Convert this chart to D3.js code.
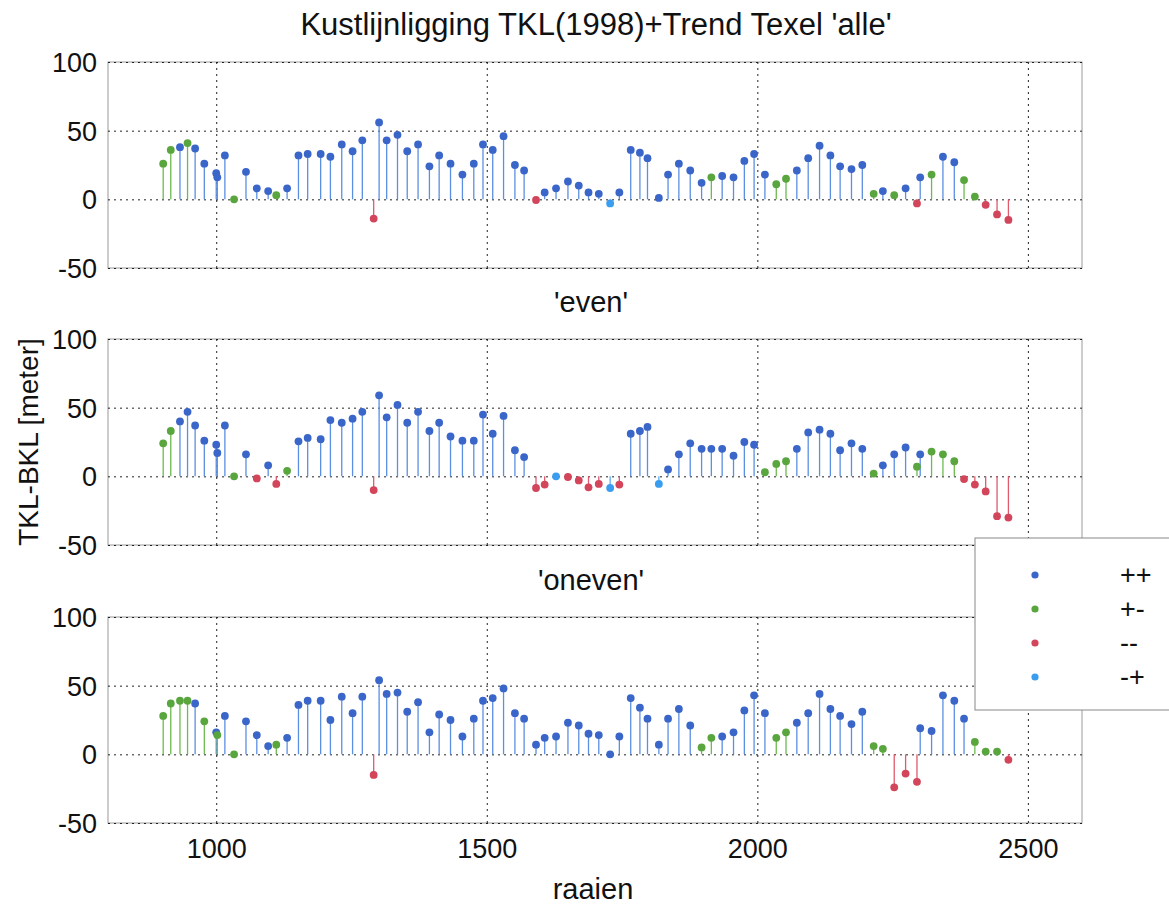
<!DOCTYPE html>
<meta charset="utf-8">
<style>
body { margin: 0; background: #fff; }
text { font-family: "Liberation Sans", Arial, sans-serif; fill: #111; }
.grid line { stroke: #222; stroke-dasharray: 2,4; stroke-width: 1; }
.grid .domain { display: none; }
</style>
<body>
<script src="https://d3js.org/d3.v7.min.js"></script>
<script>

// raai positions (shared by the three panels)
var raaien = [902,916,933,947,961,978,1000,1002,1016,1033,1055,1075,1096,1111,1131,1152,1169,1193,1211,1232,
  1252,1270,1291,1301,1315,1335,1353,1373,1394,1412,1433,1455,1476,1493,1511,1531,1552,1569,1591,1607,
  1628,1650,1670,1688,1707,1728,1745,1766,1783,1797,1818,1835,1855,1876,1897,1915,1935,1956,1976,1994,
  2014,2035,2053,2073,2094,2115,2135,2153,2174,2194,2215,2232,2253,2274,2295,2301,2322,2343,2364,2382,
  2402,2422,2443,2464];

// 'alle'
var alleVal = [26,36,38,41,37,26,19,16,32,0,20,8,6,3,8,32,33,33,31,40,
  35,43,-14,56,43,47,35,40,24,32,26,18,26,40,36,46,25,21,-0.5,5,
  8,13,10,5,4,-3,5,36,34,30,1,18,26,21,12,16,17,16,28,33,
  18,11,15,21,30,39,32,24,22,25,4,6,3,8,-3,16,18,31,27,14,
  2,-4,-11,-15];
var alleCat = ["+-","+-","++","+-","++","++","++","++","++","+-","++","++","++","+-","++","++","++","++","++","++",
  "++","++","--","++","++","++","++","++","++","++","++","++","++","++","++","++","++","++","--","++",
  "++","++","++","++","++","-+","++","++","++","++","++","++","++","++","++","+-","++","++","++","++",
  "++","+-","+-","++","++","++","++","++","++","++","+-","++","+-","++","--","++","+-","++","++","+-",
  "+-","--","--","--"];

// 'even'
var evenVal = [24,33,40,47,37,26,23,17,37,0,16,-1.5,8,-5.5,4,25.5,28,27,41,39,
  42,47,-10,59,43,52,39,47,33,39,29,26,26,45,31,44,19,14,-8.5,-6,
  0,-0.5,-3,-8,-5.5,-8.5,-6,31,33,36,-5.5,5,16,24,20,20,20,15,25,23,
  3,9,11,20,32,34,31,19,24,20,2,8,16,21,7,16,18,16,11,-2,
  -6,-11,-29,-30];
var evenCat = ["+-","+-","++","++","++","++","++","++","++","+-","++","--","++","--","+-","++","++","++","++","++",
  "++","++","--","++","++","++","++","++","++","++","++","++","++","++","++","++","++","++","--","--",
  "-+","--","--","--","--","-+","--","++","++","++","-+","++","++","++","++","++","++","++","++","++",
  "+-","+-","+-","++","++","++","++","++","++","++","+-","++","++","++","+-","++","+-","+-","+-","--",
  "--","--","--","--"];

// 'oneven'
var onevenVal = [28,37,39,39,37,24,16,14,28,0,24,14,6,7,12,36,39,39,25,42,
  30,42,-15,54,44,45,31,38,16,29,25,13,26,39,41,48,30,26,7,12,
  13,23,21,15,14,0,13,41,34,26,7,26,33,21,5,12,13,16,32,43,
  30,12,16,23,30,44,33,28,22,31,6,4,-24,-14,-20,19,17,43,39,26,
  9,2,2,-4];
var onevenCat = ["+-","+-","+-","+-","++","+-","++","+-","++","+-","++","++","++","+-","++","++","++","++","++","++",
  "++","++","--","++","++","++","++","++","++","++","++","++","++","++","++","++","++","++","++","++",
  "++","++","++","++","++","++","++","++","++","++","++","++","++","++","+-","+-","++","++","++","++",
  "++","+-","+-","++","++","++","++","++","++","++","+-","+-","--","--","--","++","++","++","++","++",
  "+-","+-","+-","--"];

var xTicks = [1000, 1500, 2000, 2500];
var yTicks = [-50, 0, 50, 100];
var legendCats = ["++", "+-", "--", "-+"];

var dotColor  = {"++": "#3a66c9", "+-": "#5aa63e", "--": "#d2455a", "-+": "#3a9df0"};
var stemColor = {"++": "#5b8fe2", "+-": "#6cbb50", "--": "#de5a6c", "-+": "#58aef2"};

var panels = [
  {title: "Kustlijnligging TKL(1998)+Trend Texel 'alle'", vals: alleVal, cats: alleCat, top: 62, size: 31, cx: 596},
  {title: "'even'", vals: evenVal, cats: evenCat, top: 339, size: 29, cx: 591},
  {title: "'oneven'", vals: onevenVal, cats: onevenCat, top: 617, size: 29, cx: 591}
];

var width = 1169, height = 904;
var left = 108, right = 1082, ph = 206;

var svg = d3.select("body").append("svg")
    .attr("width", width)
    .attr("height", height);

var x = d3.scaleLinear().domain([800, 2600]).range([left, right]);

// plain hyphen for negatives, like the original
var fmt = function(d) { return String(d); };

panels.forEach(function(p, i) {
  var y = d3.scaleLinear().domain([-50, 100]).range([p.top + ph, p.top]);
  var g = svg.append("g");

  // title above the panel
  g.append("text")
    .attr("x", p.cx)
    .attr("y", p.top - 27)
    .attr("text-anchor", "middle")
    .attr("font-size", p.size + "px")
    .text(p.title);

  // box
  g.append("rect")
    .attr("x", left).attr("y", p.top)
    .attr("width", right - left).attr("height", ph)
    .attr("fill", "none").attr("stroke", "#999").attr("stroke-width", 1);

  // y grid + labels
  var ya = g.append("g")
    .attr("class", "grid")
    .attr("transform", "translate(" + left + ",0)")
    .call(d3.axisLeft(y).tickValues(yTicks).tickSize(-(right - left)).tickPadding(11).tickFormat(fmt));
  ya.selectAll("text").attr("font-size", "27px").attr("dy", "0.35em");

  // x grid + labels (only bottom panel)
  var xa = g.append("g")
    .attr("class", "grid")
    .attr("transform", "translate(0," + (p.top + ph) + ")")
    .call(d3.axisBottom(x).tickValues(xTicks).tickSize(-ph).tickPadding(16)
      .tickFormat(i == 2 ? fmt : function() { return ""; }));
  xa.selectAll("text").attr("font-size", "27px");

  var data = raaien.map(function(r, k) { return {r: r, v: p.vals[k], c: p.cats[k]}; });

  // stems
  g.selectAll(".stem")
    .data(data)
    .enter().append("line")
      .attr("class", "stem")
      .attr("x1", function(d) { return x(d.r); })
      .attr("x2", function(d) { return x(d.r); })
      .attr("y1", y(0))
      .attr("y2", function(d) { return y(d.v); })
      .attr("stroke", function(d) { return stemColor[d.c]; })
      .attr("stroke-width", 1.3);

  // markers
  g.selectAll(".dot")
    .data(data)
    .enter().append("circle")
      .attr("class", "dot")
      .attr("cx", function(d) { return x(d.r); })
      .attr("cy", function(d) { return y(d.v); })
      .attr("r", 3.9)
      .attr("fill", function(d) { return dotColor[d.c]; });
});

// axis titles
svg.append("text")
  .attr("x", 593).attr("y", 899)
  .attr("text-anchor", "middle")
  .attr("font-size", "29px")
  .text("raaien");

svg.append("text")
  .attr("transform", "translate(38,442) rotate(-90)")
  .attr("text-anchor", "middle")
  .attr("font-size", "28px")
  .text("TKL-BKL [meter]");

// legend
var leg = svg.append("g");
leg.append("rect")
  .attr("x", 975).attr("y", 538)
  .attr("width", 200).attr("height", 172)
  .attr("fill", "#fff").attr("stroke", "#888");

legendCats.forEach(function(c, k) {
  var ly = 575 + k * 34;
  leg.append("circle")
    .attr("cx", 1035).attr("cy", ly).attr("r", 3.6)
    .attr("fill", dotColor[c]);
  leg.append("text")
    .attr("x", 1120).attr("y", ly)
    .attr("dy", "0.35em")
    .attr("font-size", "27px")
    .text(c);
});

</script>
</body>
